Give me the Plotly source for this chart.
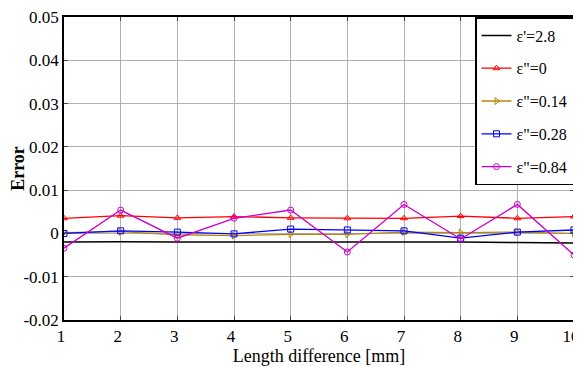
import plotly.graph_objects as go

x_vals = [1, 2, 3, 4, 5, 6, 7, 8, 9, 10]
eps_p_28 = [-0.0020, -0.0019, -0.0020, -0.0020, -0.0019, -0.0019, -0.0020, -0.0020, -0.0021, -0.0022]
eps_pp_0 = [0.0035, 0.0041, 0.0036, 0.0039, 0.0036, 0.0035, 0.0035, 0.0040, 0.0035, 0.0039]
eps_pp_014 = [0.0002, 0.0004, -0.0003, -0.0005, -0.0002, -0.0002, 0.0003, 0.0002, 0.0003, 0.0000]
eps_pp_028 = [0.0000, 0.0006, 0.0003, -0.0001, 0.0010, 0.0008, 0.0006, -0.0011, 0.0003, 0.0008]
eps_pp_084 = [-0.0034, 0.0054, -0.0011, 0.0035, 0.0054, -0.0043, 0.0067, -0.0013, 0.0067, -0.0050]
y_ticks = [-0.02, -0.01, 0, 0.01, 0.02, 0.03, 0.04, 0.05]
y_ticktext = ["-0.02", "-0.01", "0", "0.01", "0.02", "0.03", "0.04", "0.05"]

series = [
    ("ε'=2.8", eps_p_28, "black", None),
    ('ε"=0', eps_pp_0, "red", "triangle-up-open"),
    ('ε"=0.14', eps_pp_014, "#B8860B", "triangle-right-open"),
    ('ε"=0.28', eps_pp_028, "blue", "square-open"),
    ('ε"=0.84', eps_pp_084, "#CC00CC", "circle-open"),
]

FF = "Liberation Serif"

fig = go.Figure()
for i, (name, vals, col, sym) in enumerate(series):
    if sym is None:
        fig.add_trace(go.Scatter(x=x_vals, y=vals, name=name, mode="lines", legendgroup=f"g{i}",
                                 line=dict(color=col, width=1.5)))
    else:
        fig.add_trace(go.Scatter(x=x_vals, y=vals, name=name, mode="lines+markers", legendgroup=f"g{i}",
                                 line=dict(color=col, width=1.3),
                                 marker=dict(symbol=sym, size=6, color=col, line=dict(width=1, color=col))))

fig.update_layout(
    width=573, height=359,
    margin=dict(l=56, r=7, t=9, b=47, autoexpand=False),
    plot_bgcolor="white", paper_bgcolor="white",
    font=dict(family=FF, size=17, color="black"),
    showlegend=True,
    legend=dict(x=1, y=1, xanchor="right", yanchor="top",
                bordercolor="black", borderwidth=1.5, bgcolor="white",
                font=dict(family=FF, size=16, color="black"),
                tracegroupgap=9, itemwidth=30),
)
fig.update_xaxes(range=[1, 10], tickvals=x_vals, ticks="inside", ticklen=4,
                 showline=True, linecolor="black", linewidth=1.5, mirror="ticks",
                 showgrid=True, gridcolor="#b0b0b0", gridwidth=1, automargin=False,
                 ticklabeloverflow="allow", ticklabelshift=-3,
                 tickfont=dict(family=FF, size=17), zeroline=False,
                 title=dict(text="Length difference [mm]", font=dict(family=FF, size=18), standoff=0))
fig.update_yaxes(range=[-0.02, 0.05], tickvals=y_ticks, ticktext=y_ticktext,
                 ticks="inside", ticklen=4,
                 showline=True, linecolor="black", linewidth=1.5, mirror="ticks",
                 showgrid=True, gridcolor="#b0b0b0", gridwidth=1, automargin=False,
                 ticklabeloverflow="allow",
                 tickfont=dict(family=FF, size=17), zeroline=False,
                 title=dict(text="<b>Error</b>", font=dict(family=FF, size=18), standoff=12))

fig.write_html("out.html")
